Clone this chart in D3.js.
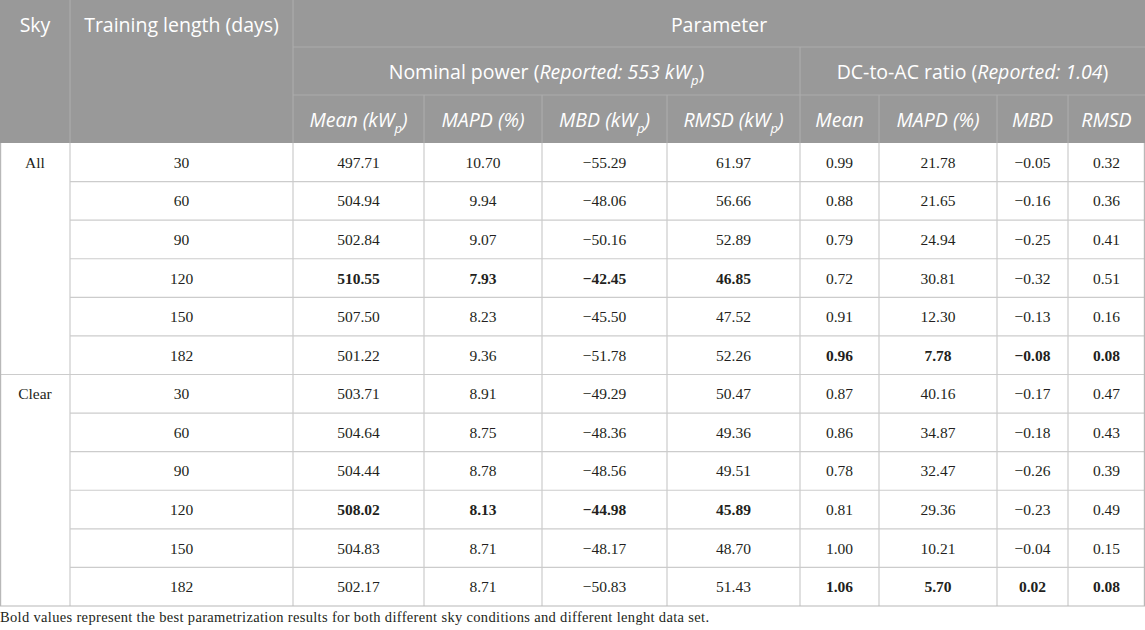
<!DOCTYPE html>
<html>
<head>
<meta charset="utf-8">
<script src="https://cdn.jsdelivr.net/npm/d3@7"></script>
<style>
  body { margin: 0; background: #fff; }
  svg { display: block; }
</style>
</head>
<body>
<div id="chart"></div>
<script>
// Data
const skyGroups = ['All', 'Clear'];
const trainingDays = [30, 60, 90, 120, 150, 182];
const nomMean = [497.71, 504.94, 502.84, 510.55, 507.50, 501.22, 503.71, 504.64, 504.44, 508.02, 504.83, 502.17];
const nomMAPD = [10.70, 9.94, 9.07, 7.93, 8.23, 9.36, 8.91, 8.75, 8.78, 8.13, 8.71, 8.71];
const nomMBD = [-55.29, -48.06, -50.16, -42.45, -45.50, -51.78, -49.29, -48.36, -48.56, -44.98, -48.17, -50.83];
const nomRMSD = [61.97, 56.66, 52.89, 46.85, 47.52, 52.26, 50.47, 49.36, 49.51, 45.89, 48.70, 51.43];
const dcMean = [0.99, 0.88, 0.79, 0.72, 0.91, 0.96, 0.87, 0.86, 0.78, 0.81, 1.00, 1.06];
const dcMAPD = [21.78, 21.65, 24.94, 30.81, 12.30, 7.78, 40.16, 34.87, 32.47, 29.36, 10.21, 5.70];
const dcMBD = [-0.05, -0.16, -0.25, -0.32, -0.13, -0.08, -0.17, -0.18, -0.26, -0.23, -0.04, 0.02];
const dcRMSD = [0.32, 0.36, 0.41, 0.51, 0.16, 0.08, 0.47, 0.43, 0.39, 0.49, 0.15, 0.08];
// rows (days) whose Nominal / DC blocks are bold
const boldNominalDays = [120];
const boldDcDays = [182];
const footnote = 'Bold values represent the best parametrization results for both different sky conditions and different lenght data set.';

const valueColumns = [nomMean, nomMAPD, nomMBD, nomRMSD, dcMean, dcMAPD, dcMBD, dcRMSD];

// Layout
const W = 1145, H = 630;
const colEdges = [0, 70, 293, 424, 542, 667, 800, 879, 997, 1068, 1145];
const headRows = [0, 47, 95, 143];
const bodyTop = 143, bodyBottom = 606;
const COLORS = {
  head: '#999999',
  headLine: '#ababab',
  grid: '#cccccc',
  border: '#b8b8b8',
  text: '#231f20'
};
const SANS = '"Open Sans", "Noto Sans", sans-serif';
const SERIF = '"Liberation Serif", "Times New Roman", serif';

const svg = d3.select('#chart').append('svg')
  .attr('width', W).attr('height', H);

const colX = i => colEdges[i];
const colMid = i => (colEdges[i] + colEdges[i + 1]) / 2;

// Row scale for body
const rows = [];
skyGroups.forEach(s => trainingDays.forEach(d => rows.push({ sky: s, days: d })));
const y = d3.scaleBand()
  .domain(d3.range(rows.length))
  .range([bodyTop, bodyBottom]);

// Header background
svg.append('rect')
  .attr('x', 0).attr('y', 0).attr('width', W).attr('height', bodyTop)
  .attr('fill', COLORS.head);

const headLines = svg.append('g')
  .attr('stroke', COLORS.headLine).attr('stroke-width', 1.2);
// vertical lines in header
[1, 2].forEach(i => headLines.append('line')
  .attr('x1', colX(i)).attr('x2', colX(i)).attr('y1', 0).attr('y2', bodyTop));
headLines.append('line')
  .attr('x1', colX(6)).attr('x2', colX(6)).attr('y1', headRows[1]).attr('y2', bodyTop);
[3, 4, 5, 7, 8, 9].forEach(i => headLines.append('line')
  .attr('x1', colX(i)).attr('x2', colX(i)).attr('y1', headRows[2]).attr('y2', bodyTop));
// horizontal lines in header
[1, 2].forEach(r => headLines.append('line')
  .attr('x1', colX(2)).attr('x2', W).attr('y1', headRows[r]).attr('y2', headRows[r]));

function headText(x, yy, parts) {
  const t = svg.append('text')
    .attr('x', x).attr('y', yy)
    .attr('text-anchor', 'middle')
    .attr('dominant-baseline', 'central')
    .attr('fill', '#fff')
    .style('font-family', SANS)
    .style('font-size', '19.5px');
  parts.forEach(p => {
    const ts = t.append('tspan').text(p.t);
    if (p.i) ts.style('font-style', 'italic');
    if (p.sub) ts.attr('baseline-shift', 'sub').style('font-size', '13px');
  });
  return t;
}
const midRow = r => (headRows[r] + headRows[r + 1]) / 2;

headText(colMid(0), midRow(0), [{ t: 'Sky' }]);
headText(colMid(1), midRow(0), [{ t: 'Training length (days)' }]);
headText((colX(2) + W) / 2, midRow(0), [{ t: 'Parameter' }]);
headText((colX(2) + colX(6)) / 2, midRow(1), [
  { t: 'Nominal power (' }, { t: 'Reported: 553 kW', i: true }, { t: 'p', i: true, sub: true }, { t: ')' }]);
headText((colX(6) + W) / 2, midRow(1), [
  { t: 'DC-to-AC ratio (' }, { t: 'Reported: 1.04', i: true }, { t: ')' }]);

const subHeads = [
  [{ t: 'Mean (kW', i: true }, { t: 'p', i: true, sub: true }, { t: ')', i: true }],
  [{ t: 'MAPD (%)', i: true }],
  [{ t: 'MBD (kW', i: true }, { t: 'p', i: true, sub: true }, { t: ')', i: true }],
  [{ t: 'RMSD (kW', i: true }, { t: 'p', i: true, sub: true }, { t: ')', i: true }],
  [{ t: 'Mean', i: true }],
  [{ t: 'MAPD (%)', i: true }],
  [{ t: 'MBD', i: true }],
  [{ t: 'RMSD', i: true }]
];
subHeads.forEach((p, i) => headText(colMid(i + 2), midRow(2), p));

// Body grid
const grid = svg.append('g').attr('stroke', COLORS.grid).attr('stroke-width', 1.2);
rows.forEach((r, i) => {
  if (i === 0) return;
  const x0 = (i % trainingDays.length === 0) ? 0 : colX(1);
  grid.append('line')
    .attr('x1', x0).attr('x2', W)
    .attr('y1', y(i)).attr('y2', y(i));
});
colEdges.slice(1, -1).forEach(x => grid.append('line')
  .attr('x1', x).attr('x2', x).attr('y1', bodyTop).attr('y2', bodyBottom));
// outer border
svg.append('path')
  .attr('d', `M0.6,${bodyTop}V${bodyBottom}H${W - 0.6}V${bodyTop}`)
  .attr('fill', 'none')
  .attr('stroke', COLORS.border)
  .attr('stroke-width', 1.2);

const fmt = d3.format('.2f');
const body = svg.append('g')
  .style('font-family', SERIF)
  .style('font-size', '15.5px')
  .attr('fill', COLORS.text)
  .attr('text-anchor', 'middle')
  .attr('dominant-baseline', 'central');

// Sky labels
skyGroups.forEach((s, g) => {
  body.append('text')
    .attr('x', colMid(0))
    .attr('y', y(g * trainingDays.length) + y.bandwidth() / 2)
    .text(s);
});

rows.forEach((r, i) => {
  const cy = y(i) + y.bandwidth() / 2;
  body.append('text').attr('x', colMid(1)).attr('y', cy).text(r.days);
  valueColumns.forEach((col, c) => {
    const bold = c < 4 ? boldNominalDays.includes(r.days) : boldDcDays.includes(r.days);
    body.append('text')
      .attr('x', colMid(c + 2)).attr('y', cy)
      .style('font-weight', bold ? 'bold' : 'normal')
      .text(fmt(col[i]));
  });
});

// Footnote
svg.append('text')
  .attr('x', 0).attr('y', 622)
  .attr('fill', COLORS.text)
  .attr('textLength', 709)
  .attr('lengthAdjust', 'spacing')
  .style('font-family', SERIF)
  .style('font-size', '14.5px')
  .text(footnote);
</script>
</body>
</html>
